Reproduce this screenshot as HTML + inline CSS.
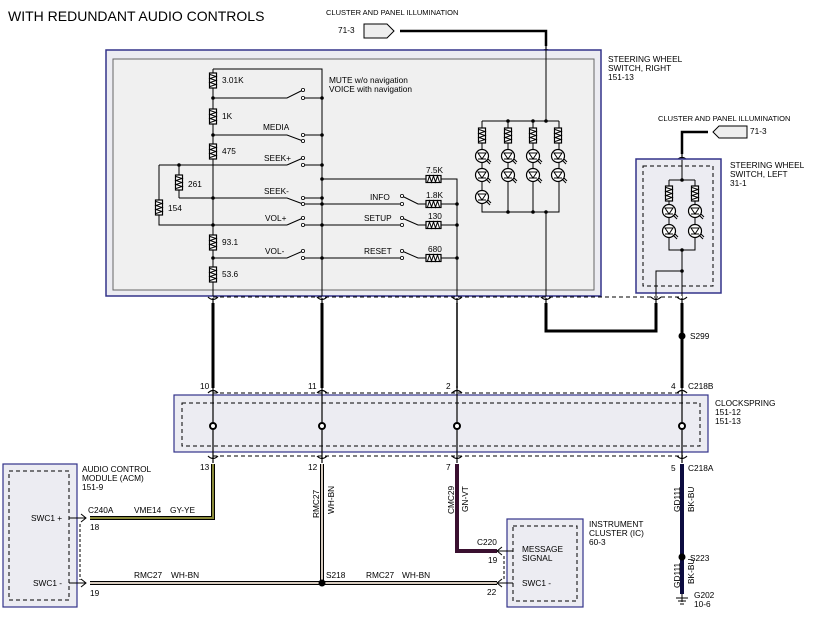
<!DOCTYPE html>
<html><head><meta charset="utf-8"><style>
html,body{margin:0;padding:0;background:#fff}
svg{display:block}
text{font-family:"Liberation Sans",sans-serif;font-size:8.3px;fill:#000}
</style></head><body>
<svg width="816" height="617" viewBox="0 0 816 617" xmlns="http://www.w3.org/2000/svg">
<defs>
<g id="rv"><rect x="-3.5" y="0" width="7" height="15" fill="#fff" stroke="#000" stroke-width="1.2"/><path d="M-3,1.5 L3,3.5 L-3,5.5 L3,7.5 L-3,9.5 L3,11.5 L-3,13.5" fill="none" stroke="#000" stroke-width="1"/></g>
<g id="rh"><rect x="0" y="-3.5" width="15" height="7" fill="#fff" stroke="#000" stroke-width="1.2"/><path d="M1.5,3 L3.5,-3 L5.5,3 L7.5,-3 L9.5,3 L11.5,-3 L13.5,3" fill="none" stroke="#000" stroke-width="1"/></g>
<g id="led"><circle r="6.5" fill="#fff" stroke="#000" stroke-width="1.2"/><path d="M-4,-3 L4,-3 L0,3 Z M-4,3 L4,3" fill="none" stroke="#000" stroke-width="1"/><path d="M4,4 L8,8 M6,3 L9,6" stroke="#000" stroke-width="1"/></g>
<g id="fd"><path d="M-5,-3 Q0,2 5,-3 M0,-2 L0,4" fill="none" stroke="#000" stroke-width="1.2"/></g>
<g id="fu"><path d="M-5,3 Q0,-2 5,3 M0,2 L0,-4" fill="none" stroke="#000" stroke-width="1.2"/></g>
</defs>

<text x="8" y="21" style="font-size:14px">WITH REDUNDANT AUDIO CONTROLS</text>

<text x="326" y="15" style="font-size:7.5px">CLUSTER AND PANEL ILLUMINATION</text>
<text x="338" y="33">71-3</text>
<path d="M364,24 L387,24 L394,31 L387,38 L364,38 Z" fill="#eee" stroke="#000"/>
<path d="M400,31 L546,31 L546,46" fill="none" stroke="#000" stroke-width="2.5"/>
<use href="#fu" x="546" y="49"/>

<rect x="106" y="50" width="495" height="246" fill="#ececf2" stroke="#33338a" stroke-width="1.5"/>
<rect x="113" y="59" width="481" height="231" fill="#f0f0f0" stroke="#666" stroke-width="1"/>
<text x="608" y="62">STEERING WHEEL</text>
<text x="608" y="71">SWITCH, RIGHT</text>
<text x="608" y="80">151-13</text>

<g stroke="#000" stroke-width="1" fill="none">
<path d="M213,69 L322,69 L322,296"/>
<path d="M213,69 L213,296"/>
<path d="M159,165 L287,165 M179,165 L179,198 M159,165 L159,225 L287,225"/>
<path d="M213,98 L287,98 L303,90 M303,98 L322,98"/>
<path d="M213,135 L287,135 L303,141 M303,135 L322,135"/>
<path d="M303,165 L322,165 M287,165 L303,158"/>
<path d="M179,198 L287,198 L303,204 M303,198 L322,198 M303,204 L322,204"/>
<path d="M287,225 L303,218 M303,225 L322,225"/>
<path d="M213,258 L287,258 L303,251 M303,258 L322,258"/>
<path d="M322,179 L457,179 L457,296"/>
<path d="M322,204 L402,204 M402,196 L418,204 L457,204"/>
<path d="M322,225 L402,225 M402,218 L418,225 L457,225"/>
<path d="M322,258 L402,258 M402,251 L418,258 L457,258"/>
<path d="M482,121 L559,121 M482,121 L482,212 L559,212 L559,121 M508,121 L508,212 M533,121 L533,212 M546,31 L546,121 M546,212 L546,296"/>
</g>
<g fill="#000">
<circle cx="213" cy="98" r="1.8"/><circle cx="213" cy="135" r="1.8"/><circle cx="213" cy="198" r="1.8"/><circle cx="213" cy="225" r="1.8"/><circle cx="213" cy="258" r="1.8"/><circle cx="179" cy="165" r="1.8"/>
<circle cx="322" cy="98" r="1.8"/><circle cx="322" cy="135" r="1.8"/><circle cx="322" cy="165" r="1.8"/><circle cx="322" cy="179" r="1.8"/><circle cx="322" cy="198" r="1.8"/><circle cx="322" cy="204" r="1.8"/><circle cx="322" cy="225" r="1.8"/><circle cx="322" cy="258" r="1.8"/>
<circle cx="457" cy="204" r="1.8"/><circle cx="457" cy="225" r="1.8"/><circle cx="457" cy="258" r="1.8"/>
<circle cx="508" cy="121" r="1.8"/><circle cx="533" cy="121" r="1.8"/><circle cx="546" cy="121" r="1.8"/><circle cx="508" cy="212" r="1.8"/><circle cx="533" cy="212" r="1.8"/><circle cx="546" cy="212" r="1.8"/>
</g>
<g fill="#fff" stroke="#000" stroke-width="0.8">
<circle cx="303" cy="90" r="1.6"/><circle cx="303" cy="98" r="1.6"/><circle cx="303" cy="135" r="1.6"/><circle cx="303" cy="141" r="1.6"/><circle cx="303" cy="158" r="1.6"/><circle cx="303" cy="165" r="1.6"/><circle cx="303" cy="198" r="1.6"/><circle cx="303" cy="204" r="1.6"/><circle cx="303" cy="218" r="1.6"/><circle cx="303" cy="225" r="1.6"/><circle cx="303" cy="251" r="1.6"/><circle cx="303" cy="258" r="1.6"/>
<circle cx="402" cy="196" r="1.6"/><circle cx="402" cy="204" r="1.6"/><circle cx="402" cy="218" r="1.6"/><circle cx="402" cy="225" r="1.6"/><circle cx="402" cy="251" r="1.6"/><circle cx="402" cy="258" r="1.6"/>
</g>
<use href="#rv" x="213" y="73"/><use href="#rv" x="213" y="109"/><use href="#rv" x="213" y="144"/><use href="#rv" x="213" y="235"/><use href="#rv" x="213" y="267"/>
<use href="#rv" x="179" y="175"/><use href="#rv" x="159" y="200"/>
<use href="#rh" x="426" y="179"/><use href="#rh" x="426" y="204"/><use href="#rh" x="426" y="225"/><use href="#rh" x="426" y="258"/>
<text x="222" y="83">3.01K</text><text x="222" y="119">1K</text><text x="222" y="154">475</text><text x="188" y="187">261</text><text x="168" y="211">154</text><text x="222" y="245">93.1</text><text x="222" y="277">53.6</text>
<text x="329" y="83">MUTE   w/o navigation</text><text x="329" y="92">VOICE  with navigation</text>
<text x="263" y="130">MEDIA</text><text x="264" y="161">SEEK+</text><text x="264" y="194">SEEK-</text><text x="265" y="221">VOL+</text><text x="265" y="254">VOL-</text>
<text x="370" y="200">INFO</text><text x="364" y="221">SETUP</text><text x="364" y="254">RESET</text>
<text x="426" y="173">7.5K</text><text x="426" y="198">1.8K</text><text x="428" y="219">130</text><text x="428" y="252">680</text>
<use href="#rv" x="482" y="128"/><use href="#rv" x="508" y="128"/><use href="#rv" x="533" y="128"/><use href="#rv" x="558" y="128"/>
<use href="#led" x="482" y="156"/><use href="#led" x="482" y="175"/><use href="#led" x="482" y="197"/>
<use href="#led" x="508" y="156"/><use href="#led" x="508" y="175"/>
<use href="#led" x="533" y="156"/><use href="#led" x="533" y="175"/>
<use href="#led" x="558" y="156"/><use href="#led" x="558" y="175"/>

<text x="658" y="121" style="font-size:7.5px">CLUSTER AND PANEL ILLUMINATION</text>
<text x="750" y="134">71-3</text>
<path d="M747,126 L719,126 L713,132 L719,138 L747,138 Z" fill="#eee" stroke="#000"/>
<path d="M708,132 L682,132 L682,154" fill="none" stroke="#000" stroke-width="2.5"/>
<use href="#fu" x="682" y="157"/>
<rect x="636" y="159" width="85" height="134" fill="#ececf2" stroke="#33338a" stroke-width="1.5"/>
<rect x="643" y="166" width="70" height="120" fill="none" stroke="#000" stroke-dasharray="4,3"/>
<text x="730" y="168">STEERING WHEEL</text><text x="730" y="177">SWITCH, LEFT</text><text x="730" y="186">31-1</text>
<path d="M682,160 L682,180 M669,180 L695,180 M669,180 L669,250 L695,250 L695,180 M682,250 L682,296 M682,271 L656,271 L656,296" fill="none" stroke="#000"/>
<circle cx="682" cy="180" r="1.8"/><circle cx="682" cy="250" r="1.8"/><circle cx="682" cy="271" r="1.8"/>
<use href="#rv" x="669" y="186"/><use href="#rv" x="695" y="186"/>
<use href="#led" x="669" y="211"/><use href="#led" x="695" y="211"/><use href="#led" x="669" y="231"/><use href="#led" x="695" y="231"/>

<path d="M213,297 L683,297 M213,393 L683,393 M213,456 L683,456" stroke="#000" stroke-dasharray="4,3"/>
<use href="#fd" x="213" y="300"/><use href="#fd" x="322" y="300"/><use href="#fd" x="457" y="300"/><use href="#fd" x="546" y="300"/><use href="#fd" x="656" y="300"/><use href="#fd" x="682" y="300"/>
<path d="M213,303 L213,388 M322,303 L322,388" stroke="#000" stroke-width="3"/>
<path d="M457,303 L457,388" stroke="#000" stroke-width="1.5"/>
<path d="M546,303 L546,331 L656,331 L656,303" fill="none" stroke="#000" stroke-width="3"/>
<path d="M682,303 L682,388" stroke="#000" stroke-width="3"/>
<circle cx="682" cy="336" r="3.5"/><text x="690" y="339">S299</text>
<use href="#fu" x="213" y="390"/><use href="#fu" x="322" y="390"/><use href="#fu" x="457" y="390"/><use href="#fu" x="682" y="390"/>
<text x="200" y="389">10</text><text x="308" y="389">11</text><text x="446" y="389">2</text><text x="671" y="389">4</text><text x="688" y="389">C218B</text>

<rect x="174" y="395" width="534" height="57" fill="#ececf2" stroke="#33338a" stroke-width="1.2"/>
<rect x="182" y="403" width="518" height="43" fill="none" stroke="#000" stroke-dasharray="4,3"/>
<text x="715" y="406">CLOCKSPRING</text><text x="715" y="415">151-12</text><text x="715" y="424">151-13</text>
<path d="M213,392 L213,458 M322,392 L322,458 M457,392 L457,458 M682,392 L682,458" stroke="#000" stroke-width="1.2"/>
<g fill="#fff" stroke="#000" stroke-width="2"><circle cx="213" cy="426" r="3"/><circle cx="322" cy="426" r="3"/><circle cx="457" cy="426" r="3"/><circle cx="682" cy="426" r="3"/></g>
<use href="#fd" x="213" y="459"/><use href="#fd" x="322" y="459"/><use href="#fd" x="457" y="459"/><use href="#fd" x="682" y="459"/>
<text x="200" y="470">13</text><text x="308" y="470">12</text><text x="446" y="470">7</text><text x="671" y="471">5</text><text x="688" y="471">C218A</text>

<path d="M213,464 L213,518 L90,518" fill="none" stroke="#000" stroke-width="4"/>
<path d="M213,464 L213,518 L90,518" fill="none" stroke="#8a8a3a" stroke-width="2"/>
<path d="M322,464 L322,583 M90,583 L497,583" fill="none" stroke="#000" stroke-width="4"/>
<path d="M322,464 L322,583 M90,583 L497,583" fill="none" stroke="#d8ccc0" stroke-width="2"/>
<circle cx="322" cy="583" r="3.5"/>
<path d="M457,464 L457,551 L497,551" fill="none" stroke="#3a1030" stroke-width="4"/>
<path d="M682,464 L682,594" stroke="#0c0c40" stroke-width="4"/>
<circle cx="682" cy="557" r="3.5"/><text x="690" y="561">S223</text>
<path d="M682,594 L682,602 M676,598 L688,598 M678,601 L686,601 M680,604 L684,604" stroke="#000"/>
<text x="694" y="598">G202</text><text x="694" y="607">10-6</text>
<text transform="translate(680,512) rotate(-90)">GD111</text><text transform="translate(694,512) rotate(-90)">BK-BU</text>
<text transform="translate(680,588) rotate(-90)">GD111</text><text transform="translate(694,584) rotate(-90)">BK-BU</text>
<text transform="translate(319,518) rotate(-90)">RMC27</text><text transform="translate(334,514) rotate(-90)">WH-BN</text>
<text transform="translate(454,514) rotate(-90)">CMC29</text><text transform="translate(468,512) rotate(-90)">GN-VT</text>
<text x="88" y="513">C240A</text><text x="134" y="513">VME14</text><text x="170" y="513">GY-YE</text><text x="90" y="530">18</text>
<text x="134" y="578">RMC27</text><text x="171" y="578">WH-BN</text><text x="90" y="596">19</text>
<text x="326" y="578">S218</text><text x="366" y="578">RMC27</text><text x="402" y="578">WH-BN</text>
<text x="477" y="545">C220</text><text x="488" y="563">19</text><text x="487" y="595">22</text>

<rect x="3" y="464" width="74" height="143" fill="#ececf2" stroke="#33338a" stroke-width="1.2"/>
<rect x="9" y="471" width="60" height="129" fill="none" stroke="#000" stroke-dasharray="4,3"/>
<text x="82" y="472">AUDIO CONTROL</text><text x="82" y="481">MODULE (ACM)</text><text x="82" y="490">151-9</text>
<text x="31" y="521">SWC1 +</text><text x="33" y="586">SWC1 -</text>
<path d="M69,518 L86,518 M81,514 L86,518 L81,522 M69,583 L86,583 M81,579 L86,583 L81,587" fill="none" stroke="#000"/>
<path d="M80,524 L80,580" stroke="#000" stroke-dasharray="3,2"/>

<rect x="507" y="519" width="76" height="88" fill="#ececf2" stroke="#33338a" stroke-width="1.2"/>
<rect x="513" y="526" width="64" height="75" fill="none" stroke="#000" stroke-dasharray="4,3"/>
<text x="589" y="527">INSTRUMENT</text><text x="589" y="536">CLUSTER (IC)</text><text x="589" y="545">60-3</text>
<text x="522" y="552">MESSAGE</text><text x="522" y="561">SIGNAL</text><text x="522" y="586">SWC1 -</text>
<path d="M497,551 L513,551 M502,547 L497,551 L502,555 M497,583 L513,583 M502,579 L497,583 L502,587" fill="none" stroke="#000"/>
<path d="M504,556 L504,580" stroke="#000" stroke-dasharray="3,2"/>
</svg>
</body></html>
